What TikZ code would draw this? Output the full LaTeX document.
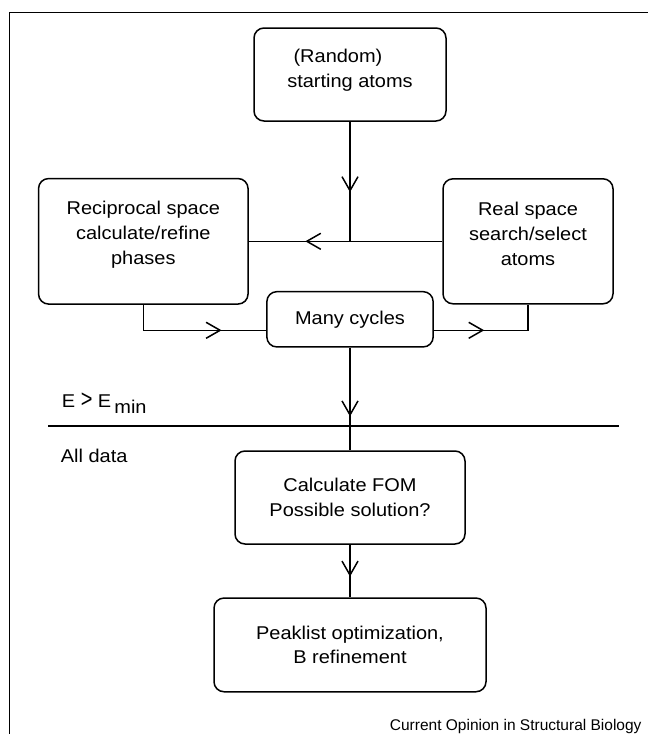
\documentclass[tikz,border=0pt]{standalone}
\usepackage{fontspec}
\setmainfont[FakeStretch=1.08]{Liberation Sans}
\newfontfamily\creditfont{Liberation Sans}
\usetikzlibrary{arrows.meta,decorations.markings,positioning}
\tikzset{
  flowbox/.style={draw, line width=1.5pt, rounded corners=10pt, align=center,
    inner sep=0pt, font=\fontsize{18.5}{24.7}\selectfont},
  conn/.style={line width=1.5pt},
  vtip/.tip={Straight Barb[length=14pt,width=16pt,line width=1.5pt]},
  midarrow/.style={conn, postaction={decorate},
    decoration={markings, mark=at position #1 with {\arrow{vtip}}}},
  plain/.style={font=\fontsize{18.5}{24.7}\selectfont, inner sep=0pt},
}
\begin{document}
\begin{tikzpicture}[x=1pt,y=-1pt]
\useasboundingbox (0,0) rectangle (648,734);
% frame
\coordinate (fTL) at (9,12);
\coordinate (fTR) at (648,12);
\coordinate (fBL) at (9,734);
\draw[line width=1pt] (fBL) -- (fTL) -- (fTR);
% boxes
\node[flowbox, minimum width=192pt, minimum height=93pt] (top) at (350,74.5)
  {(Random)\hspace*{24pt}\\starting atoms\hspace*{24pt}\\[-12pt]\mbox{}};
\node[flowbox, minimum width=209.5pt, minimum height=125.5pt] (lbox) at (143.3,241.3)
  {Reciprocal space\\calculate/refine\\phases\\[-8pt]\mbox{}};
\node[flowbox, minimum width=170pt, minimum height=125pt] (rbox) at (528,241.3)
  {Real space\\search/select\\atoms\\[-10pt]\mbox{}};
\node[flowbox, minimum width=166.3pt, minimum height=55.3pt] (many) at (350,319.3)
  {Many cycles};
\node[flowbox, minimum width=230pt, minimum height=93pt] (calc) at (350,497.5)
  {Calculate FOM\\Possible solution?};
\node[flowbox, minimum width=272pt, minimum height=93.7pt] (peak) at (350,644.9)
  {Peaklist optimization,\\B refinement};
% junction
\coordinate (J) at (top.south |- lbox.east);
% connectors
\draw[midarrow=0.589] (top.south) -- (J);
\draw[midarrow=0.708] (rbox.west) -- (lbox.east);
\draw[midarrow=0.70] (lbox.south) |- ([yshift=-11pt]many.west);
\draw[midarrow=0.42] ([yshift=-11pt]many.east) -| (rbox.south);
\draw[midarrow=0.67] (many.south) -- (calc.north);
\draw[midarrow=0.606] (calc.south) -- (peak.north);
% separator
\coordinate (sepL) at (48,426);
\coordinate (sepR) at (619,426);
\draw[line width=2.5pt] (sepL) -- (sepR);
\node[plain, anchor=base west] (emin) at (61.7,407) {E \scalebox{1}[1.35]{>} E\,\raisebox{-6pt}{min}};
\node[plain, anchor=base west] (alldata) at (60.7,462.7) {All data};
% credit
\node[inner sep=0pt, anchor=base east, font=\creditfont\fontsize{15.5}{18}\selectfont] (credit) at (641.7,730)
  {Current Opinion in Structural Biology};
\end{tikzpicture}
\end{document}
